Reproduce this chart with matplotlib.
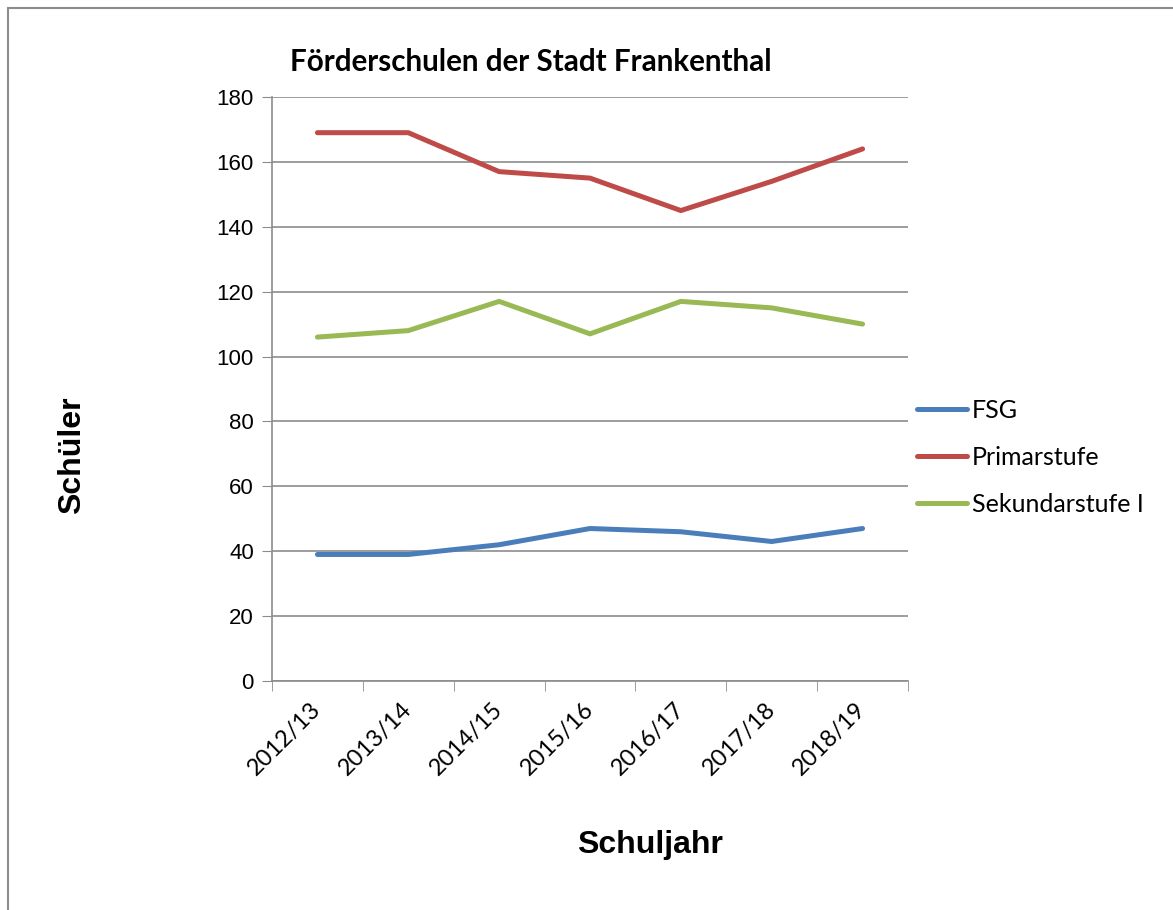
import numpy as np
import matplotlib.pyplot as plt
from matplotlib.patches import Rectangle

years = ["2012/13", "2013/14", "2014/15", "2015/16", "2016/17", "2017/18", "2018/19"]
fsg = [39, 39, 42, 47, 46, 43, 47]
primar = [169, 169, 157, 155, 145, 154, 164]
sekundar = [106, 108, 117, 107, 117, 115, 110]

series_names = ["FSG", "Primarstufe", "Sekundarstufe I"]
colors = ["#4A7EBB", "#BE4B48", "#98B954"]

calibri_like = ["Lato", "DejaVu Sans"]

fig = plt.figure(figsize=(11.73, 9.10), dpi=100)
ax = fig.add_axes([272/1173, 1 - 681/910, (908-272)/1173, (681-97)/910])

# outer chart frame
fig.patches.append(Rectangle((8/1173, -0.05), 1.2, 1 - 8/910 + 0.05, transform=fig.transFigure,
                             fill=False, edgecolor="#8C8C8C", lw=1.5))

x = np.arange(len(years))
for vals, name, c in zip([fsg, primar, sekundar], series_names, colors):
    ax.plot(x, vals, color=c, lw=3.6, label=name, solid_capstyle="round", solid_joinstyle="round")

ax.set_ylim(0, 180)
ax.set_xlim(-0.5, len(years) - 0.5)
ax.set_yticks(np.arange(0, 181, 20))
ax.yaxis.grid(True, color="#8C8C8C", lw=1.2)
ax.set_axisbelow(True)

ax.set_xticks(x)
ax.set_xticklabels(years, rotation=45, ha="right", va="center", rotation_mode="anchor",
                   fontsize=17, family=calibri_like)
ax.set_xticks(np.arange(-0.5, len(years)), minor=True)
ax.tick_params(axis="x", which="major", length=0, pad=18)
ax.tick_params(axis="x", which="minor", length=7, color="#8C8C8C", direction="out")
ax.tick_params(axis="y", length=7, color="#8C8C8C", labelsize=16, pad=6)
for lab in ax.get_yticklabels():
    lab.set_family("Liberation Sans")

for s in ["top", "right"]:
    ax.spines[s].set_visible(False)
for s in ["left", "bottom"]:
    ax.spines[s].set_color("#8C8C8C")
    ax.spines[s].set_linewidth(1.2)

fig.text(290/1173, 1 - 62/910, "Förderschulen der Stadt Frankenthal", fontsize=21.3, fontweight="bold",
         family=calibri_like, ha="left", va="center")
fig.text(72/1173, 1 - 455/910, "Schüler", fontsize=23, fontweight="bold", family="Liberation Sans",
         rotation=90, ha="center", va="center")
fig.text(650/1173, 1 - 845/910, "Schuljahr", fontsize=23, fontweight="bold", family="Liberation Sans",
         ha="center", va="center")

leg = fig.legend(loc="upper left", bbox_to_anchor=(907/1173, 1 - 389/910), frameon=False,
                 prop={"family": calibri_like, "size": 18}, handlelength=2.0, handletextpad=0.2,
                 labelspacing=0.96, borderaxespad=0)

fig.savefig("out.png", dpi=100)
